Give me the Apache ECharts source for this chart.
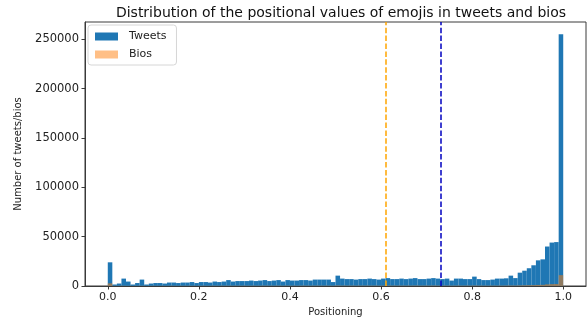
<!DOCTYPE html>
<html>
<head>
<meta charset="utf-8">
<script src="https://cdn.jsdelivr.net/npm/echarts@6/dist/echarts.min.js"></script>
<style>
  html, body { margin: 0; padding: 0; background: #fff; }
  #chart { width: 588px; height: 317px; }
</style>
</head>
<body>
<div id="chart"></div>
<script>
// histogram: 100 bins of width 0.01 over [0, 1]
const binWidth = 0.01;
const tweets = [
  24000, 1500, 2500, 7500, 4500, 1500, 3000, 6500, 1500, 2500,
  3000, 3000, 2500, 3500, 3500, 3000, 3500, 3500, 4000, 3000,
  4000, 4000, 3500, 4500, 4000, 4500, 6000, 4500, 5000, 5000,
  5000, 5500, 5000, 5500, 6000, 5000, 5500, 6000, 4500, 6000,
  5500, 5500, 6000, 6000, 5500, 6500, 6500, 6500, 6500, 4000,
  10500, 7500, 7000, 7000, 6500, 7000, 7000, 7500, 7000, 6500,
  7500, 8000, 7000, 7000, 7500, 7000, 7500, 8000, 7000, 7000,
  7500, 8000, 7500, 7000, 7500, 5500, 7500, 7500, 7000, 7000,
  9500, 7000, 6000, 6000, 6500, 7500, 7500, 7800, 10500, 8000,
  13500, 15500, 18000, 21000, 26000, 27000, 40000, 44000, 44500, 255000
];
const bios = [
  2700, 150, 200, 250, 200, 150, 200, 250, 150, 200,
  200, 200, 200, 250, 250, 200, 250, 250, 250, 200,
  250, 250, 250, 300, 250, 300, 300, 300, 300, 300,
  300, 300, 300, 300, 350, 300, 300, 350, 300, 350,
  300, 300, 350, 350, 300, 350, 350, 350, 350, 300,
  500, 400, 400, 400, 350, 400, 400, 400, 400, 350,
  400, 450, 400, 400, 400, 400, 400, 450, 400, 400,
  400, 450, 400, 400, 400, 350, 400, 400, 400, 400,
  450, 400, 350, 350, 400, 400, 400, 450, 500, 450,
  600, 700, 800, 900, 1100, 1200, 1700, 1900, 2000, 11000
];
const tweetsMean = 0.731;
const biosMean = 0.611;
const xTicks = [0, 0.2, 0.4, 0.6, 0.8, 1.0];
const yTicks = [0, 50000, 100000, 150000, 200000, 250000];

const toBins = vals => vals.map((v, i) => [i * binWidth, (i + 1) * binWidth, v]);

const makeRender = fill => (params, api) => {
  const p0 = api.coord([api.value(0), api.value(2)]);
  const p1 = api.coord([api.value(1), 0]);
  return {
    type: 'rect',
    shape: { x: p0[0], y: p0[1], width: p1[0] - p0[0], height: p1[1] - p0[1] },
    style: { fill: fill }
  };
};

const chart = echarts.init(document.getElementById('chart'));
const font = 'DejaVu Sans';
const axisColor = '#3a3a3a';

chart.setOption({
  animation: false,
  textStyle: { fontFamily: font },
  title: {
    text: 'Distribution of the positional values of emojis in tweets and bios',
    left: 336, top: 1, textAlign: 'center',
    textStyle: { fontFamily: font, fontSize: 14, fontWeight: 'normal', color: '#111' }
  },
  legend: {
    left: 88, top: 25,
    orient: 'vertical',
    icon: 'rect',
    itemWidth: 23, itemHeight: 8, itemGap: 7,
    padding: [6, 10, 5, 7],
    borderColor: '#d6d6d6', borderWidth: 1, borderRadius: 3,
    textStyle: { fontFamily: font, fontSize: 11, color: '#222', padding: [0, 0, 0, 6] },
    data: [
      { name: 'Tweets', itemStyle: { color: '#1f77b4' } },
      { name: 'Bios', itemStyle: { color: '#ffbf86' } }
    ]
  },
  grid: {
    left: 85, right: 2, top: 22, bottom: 31,
    outerBoundsMode: 'none', containLabel: false,
    show: true, borderColor: axisColor, borderWidth: 1
  },
  xAxis: {
    type: 'value', min: -0.05, max: 1.05,
    name: 'Positioning', nameLocation: 'middle', nameGap: 20,
    nameTextStyle: { fontFamily: font, fontSize: 10, color: '#222' },
    axisLine: { show: true, onZero: false, lineStyle: { color: axisColor } },
    axisTick: { show: true, length: 3.5, lineStyle: { color: axisColor }, customValues: xTicks },
    axisLabel: { fontSize: 11, color: '#222', margin: 6, customValues: xTicks, formatter: v => v.toFixed(1) },
    splitLine: { show: false }
  },
  yAxis: {
    type: 'value', min: 0, max: 267500,
    name: 'Number of tweets/bios', nameLocation: 'middle', nameGap: 62,
    nameTextStyle: { fontFamily: font, fontSize: 10, color: '#222' },
    axisLine: { show: true, onZero: false, lineStyle: { color: axisColor } },
    axisTick: { show: true, length: 3.5, lineStyle: { color: axisColor }, customValues: yTicks },
    axisLabel: { fontSize: 11.5, color: '#222', margin: 6, customValues: yTicks, formatter: v => String(v) },
    splitLine: { show: false }
  },
  series: [
    {
      name: 'Tweets', type: 'custom', renderItem: makeRender('#1f77b4'),
      encode: { x: [0, 1], y: 2 },
      itemStyle: { color: '#1f77b4' },
      data: toBins(tweets)
    },
    {
      name: 'Bios', type: 'custom', renderItem: makeRender('rgba(255,127,14,0.5)'),
      encode: { x: [0, 1], y: 2 },
      itemStyle: { color: '#ffbf86' },
      data: toBins(bios)
    },
    {
      name: 'means', type: 'line', data: [], silent: true,
      markLine: {
        silent: true, symbol: 'none', label: { show: false },
        data: [
          { xAxis: biosMean, lineStyle: { color: '#ffa500', type: [5.5, 2.4], width: 1.5 } },
          { xAxis: tweetsMean, lineStyle: { color: '#0000c0', type: [5.5, 2.4], width: 1.5 } }
        ]
      }
    }
  ]
});
</script>
</body>
</html>
